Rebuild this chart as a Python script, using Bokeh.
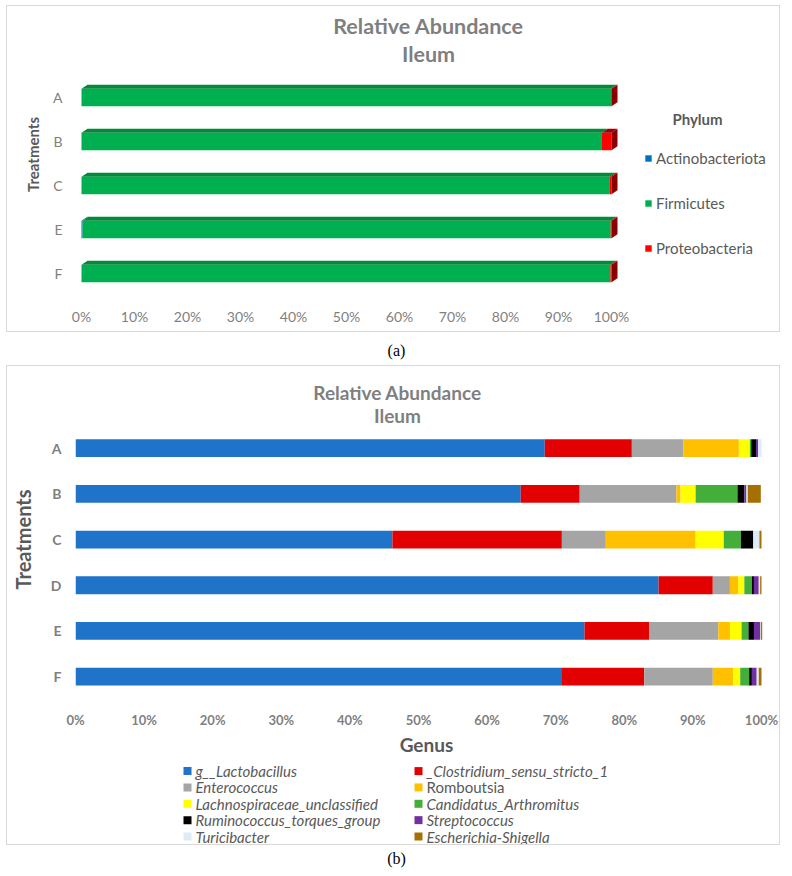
from bokeh.plotting import figure
from bokeh.models import ColumnDataSource, Legend, LegendItem, Label, FixedTicker, Range1d
from bokeh.embed import file_html
from bokeh.resources import INLINE
from bokeh.core.properties import value

FONT = "Lato"

# ---------------- data: panel (a) ----------------
title_lines = ["Relative Abundance", "Ileum"]
phylum_treatments = ["A", "B", "C", "E", "F"]
phylum_names = ["Actinobacteriota", "Firmicutes", "Proteobacteria"]
actinobacteriota = [0.0, 0.0, 0.0, 0.2, 0.0]
firmicutes = [99.9, 98.2, 99.7, 99.65, 99.8]
proteobacteria = [0.1, 1.8, 0.3, 0.15, 0.2]
phylum_colors = ["#0070c0", "#00b050", "#ff0000"]
phylum_shades = ["#00508a", "#008a3a", "#a00000"]
phylum_legend_title = "Phylum"

# ---------------- data: panel (b) ----------------
genus_treatments = ["A", "B", "C", "D", "E", "F"]
genus_names = ["g__Lactobacillus", "_Clostridium_sensu_stricto_1", "Enterococcus",
               "Romboutsia", "Lachnospiraceae_unclassified", "Candidatus_Arthromitus",
               "Ruminococcus_torques_group", "Streptococcus", "Turicibacter",
               "Escherichia-Shigella"]
genus_label_styles = ["italic", "italic", "italic", "normal", "italic",
                      "italic", "italic", "italic", "italic", "italic"]
lactobacillus = [68.4, 64.9, 46.2, 85.0, 74.2, 70.8]
clostridium = [12.7, 8.6, 24.7, 7.9, 9.4, 12.1]
enterococcus = [7.5, 14.1, 6.4, 2.5, 10.1, 10.0]
romboutsia = [8.1, 0.6, 13.1, 1.2, 1.7, 3.0]
lachnospiraceae = [1.6, 2.2, 4.1, 0.9, 1.7, 1.0]
candidatus = [0.2, 6.1, 2.5, 1.1, 1.0, 1.3]
ruminococcus = [0.7, 1.0, 1.8, 0.3, 0.8, 0.4]
streptococcus = [0.3, 0.3, 0.0, 0.7, 0.9, 0.7]
turicibacter = [0.5, 0.2, 0.9, 0.2, 0.1, 0.3]
escherichia = [0.0, 1.9, 0.3, 0.2, 0.2, 0.4]
genus_colors = ["#1f73c8", "#e20000", "#a5a5a5", "#ffc000", "#ffff00",
                "#43ae3a", "#000000", "#7030a0", "#ddebf7", "#a67000"]
genus_axis_title = "Genus"
treat_axis_title = "Treatments"

x_ticks = [0, 10, 20, 30, 40, 50, 60, 70, 80, 90, 100]
x_tick_labels = ["0%", "10%", "20%", "30%", "40%", "50%", "60%", "70%", "80%", "90%", "100%"]
captions = ["(a)", "(b)"]

TXT_GRAY = "#7f7f7f"
DARK_GRAY = "#595959"
BCOL = "1px solid #d9d9d9"

# ---------------- layout constants (page pixels) ----------------
OX, OY = 6, 5
W = 774
PAGE_R = OX + W


def base_fig(h, xr, yr, left, right, top, bottom, styles=None, mtop=0):
    p = figure(width=W, height=h, output_backend="svg", toolbar_location=None,
               x_range=xr, y_range=yr, min_border_left=left, min_border_right=right,
               min_border_top=top, min_border_bottom=bottom)
    p.margin = (mtop, 0, 0, OX)
    if styles:
        p.styles = styles
    p.outline_line_color = None
    p.grid.visible = False
    return p


def bare(p):
    p.xaxis.visible = False
    p.yaxis.visible = False


def style_axes(p):
    for ax in (p.xaxis, p.yaxis):
        ax.axis_line_color = None
        ax.major_tick_line_color = None
        ax.minor_tick_line_color = None
        ax.major_tick_out = 0
        ax.major_tick_in = 0
        ax.minor_tick_out = 0
        ax.major_label_text_font = FONT
        ax.major_label_text_color = TXT_GRAY
        ax.axis_label_text_font = FONT
        ax.axis_label_text_font_style = "bold"
        ax.axis_label_text_color = DARK_GRAY


# =============== panel (a) ===============
A_PAGE_TOP, HA = OY, 327
A_FL, A_FR = 70, 776               # frame left / right on page
A_TOP, A_BOT = 12, 294             # frame top / bottom on page
A_X0, A_PX = 80, 5.3               # page x of 0 %, px per %
A_PY = 44.0                        # px per treatment row
hA = 0.4
nA = len(phylum_treatments)
xrA = Range1d((A_FL - A_X0) / A_PX, (A_FR - A_X0) / A_PX)
yrA = Range1d(-0.5, -0.5 + (A_BOT - A_TOP) / A_PY)
pa = base_fig(HA, xrA, yrA, A_FL - OX, PAGE_R - A_FR, A_TOP - A_PAGE_TOP,
              A_PAGE_TOP + HA - A_BOT, {"border": BCOL}, mtop=OY)
dxA = 6 / A_PX
dyA = 4 / A_PY

ysA = [nA - 1 - i for i in range(nA)]
seriesA = [actinobacteriota, firmicutes, proteobacteria]
left = [0.0] * nA
rendA = []
top_xs, top_ys, top_col = [], [], []
for vals, col, shade in zip(seriesA, phylum_colors, phylum_shades):
    right = [l + v for l, v in zip(left, vals)]
    src = ColumnDataSource(dict(y=ysA, left=left, right=right))
    r = pa.hbar(y="y", left="left", right="right", height=hA, source=src,
                fill_color=col, line_color=None)
    rendA.append(r)
    for y, l, rr, v in zip(ysA, left, right, vals):
        if v > 0:
            yt = y + hA / 2
            top_xs.append([l, rr, rr + dxA, l + dxA])
            top_ys.append([yt, yt, yt + dyA, yt + dyA])
            top_col.append(shade)
    left = right

pa.patches(xs=top_xs, ys=top_ys, fill_color=top_col, line_color=None)
side_xs, side_ys = [], []
for y, Rt in zip(ysA, left):
    side_xs.append([Rt, Rt + dxA, Rt + dxA, Rt])
    side_ys.append([y - hA / 2, y - hA / 2 + dyA, y + hA / 2 + dyA, y + hA / 2])
pa.patches(xs=side_xs, ys=side_ys, fill_color="#8b0000", line_color=None)

style_axes(pa)
pa.xaxis.ticker = FixedTicker(ticks=x_ticks)
pa.xaxis.major_label_overrides = {t: s for t, s in zip(x_ticks, x_tick_labels)}
pa.yaxis.ticker = FixedTicker(ticks=ysA)
pa.yaxis.major_label_overrides = {y: s for y, s in zip(ysA, phylum_treatments)}
pa.xaxis.major_label_text_font_size = "14px"
pa.yaxis.major_label_text_font_size = "14px"
pa.xaxis.major_label_standoff = 12
pa.yaxis.major_label_standoff = 9
pa.yaxis.axis_label = treat_axis_title
pa.yaxis.axis_label_text_font_size = "15px"
pa.yaxis.axis_label_standoff = 8


def a_data(xp, yp):
    return ((xp - A_X0) / A_PX, -0.5 + (A_BOT - yp) / A_PY)


for txt, yp in zip(title_lines, [24, 52]):
    x, y = a_data(427, yp)
    pa.add_layout(Label(x=x, y=y, text=txt, text_align="center", text_baseline="middle",
                        text_font=FONT, text_font_style="bold", text_font_size="21.5px",
                        text_color=TXT_GRAY))
x, y = a_data(696, 117)
pa.add_layout(Label(x=x, y=y, text=phylum_legend_title, text_align="center",
                    text_baseline="middle", text_font=FONT, text_font_style="bold",
                    text_font_size="15px", text_color=DARK_GRAY))

leg_a = Legend(items=[LegendItem(label=n, renderers=[r]) for n, r in zip(phylum_names, rendA)],
               location=(643 - A_FL, A_BOT - 256), orientation="vertical",
               padding=0, margin=0, border_line_color=None, background_fill_alpha=0,
               glyph_width=8, glyph_height=8, label_standoff=4, spacing=27,
               label_height=18, label_text_font=FONT, label_text_font_size="15px",
               label_text_color=DARK_GRAY)
pa.add_layout(leg_a)


# =============== caption figures ===============
def caption_fig(top_page, h, y_text, txt):
    p = base_fig(h, Range1d(OX, PAGE_R), Range1d(top_page + h, top_page), 0, 0, 0, 0)
    bare(p)
    p.text(x=[396], y=[y_text], text=[txt], text_align="center", text_baseline="middle",
           text_font=value("Liberation Serif"), text_font_size="16px", text_color="#000000")
    return p


CA_TOP, HCA = A_PAGE_TOP + HA, 33
cap_a = caption_fig(CA_TOP, HCA, 350, captions[0])

# =============== panel (b) ===============
B_PAGE_TOP = CA_TOP + HCA        # 365
HB = 396                         # bars + axes part, down to page y 761
B_FL, B_FR = 74, 776
B_TOP, B_BOT = 378, 698
B_X0, B_PX = 74, 6.86
B_PY = 45.7
hB = 0.39
nB = len(genus_treatments)
xrB = Range1d((B_FL - B_X0) / B_PX, (B_FR - B_X0) / B_PX)
yrB = Range1d(-0.5, -0.5 + (B_BOT - B_TOP) / B_PY)
pb = base_fig(HB, xrB, yrB, B_FL - OX, PAGE_R - B_FR, B_TOP - B_PAGE_TOP,
              B_PAGE_TOP + HB - B_BOT, {"border": BCOL, "border-bottom": "none"})

ysB = [nB - 1 - i for i in range(nB)]
seriesB = [lactobacillus, clostridium, enterococcus, romboutsia, lachnospiraceae,
           candidatus, ruminococcus, streptococcus, turicibacter, escherichia]
left = [0.0] * nB
for vals, col in zip(seriesB, genus_colors):
    right = [l + v for l, v in zip(left, vals)]
    src = ColumnDataSource(dict(y=ysB, left=left, right=right))
    pb.hbar(y="y", left="left", right="right", height=hB, source=src,
            fill_color=col, line_color=None)
    left = right

style_axes(pb)
pb.xaxis.ticker = FixedTicker(ticks=x_ticks)
pb.xaxis.major_label_overrides = {t: s for t, s in zip(x_ticks, x_tick_labels)}
pb.yaxis.ticker = FixedTicker(ticks=ysB)
pb.yaxis.major_label_overrides = {y: s for y, s in zip(ysB, genus_treatments)}
pb.xaxis.major_label_text_font_style = "bold"
pb.yaxis.major_label_text_font_style = "bold"
pb.xaxis.major_label_text_font_size = "13px"
pb.yaxis.major_label_text_font_size = "14px"
pb.xaxis.major_label_standoff = 12
pb.yaxis.major_label_standoff = 14
pb.xaxis.axis_label = genus_axis_title
pb.xaxis.axis_label_text_font_size = "19px"
pb.xaxis.axis_label_standoff = 2
pb.yaxis.axis_label = treat_axis_title
pb.yaxis.axis_label_text_font_size = "20px"
pb.yaxis.axis_label_standoff = 13


def b_data(xp, yp):
    return ((xp - B_X0) / B_PX, -0.5 + (B_BOT - yp) / B_PY)


for txt, yp in zip(title_lines, [391, 414]):
    x, y = b_data(396, yp)
    pb.add_layout(Label(x=x, y=y, text=txt, text_align="center", text_baseline="middle",
                        text_font=FONT, text_font_style="bold", text_font_size="19px",
                        text_color=TXT_GRAY))

# ----- legend part of panel (b): key drawn in page-pixel coordinates -----
BL_TOP = B_PAGE_TOP + HB          # 761
HBL = 845 - BL_TOP
pbl = base_fig(HBL, Range1d(OX, PAGE_R), Range1d(BL_TOP + HBL, BL_TOP), 0, 0, 0, 0,
               {"border": BCOL, "border-top": "none"})
bare(pbl)
KEY_X = [186, 417]        # centre of the colour squares, per legend column
KEY_Y0, KEY_DY = 770.6, 16.35
key_x = [KEY_X[i % 2] for i in range(len(genus_names))]
key_y = [KEY_Y0 + KEY_DY * (i // 2) for i in range(len(genus_names))]
key_src = ColumnDataSource(dict(x=key_x, y=key_y, tx=[x + 8 for x in key_x],
                                name=genus_names, color=genus_colors,
                                style=genus_label_styles))
pbl.rect(x="x", y="y", width=8, height=8, source=key_src, fill_color="color",
         line_color=None)
pbl.text(x="tx", y="y", text="name", source=key_src, text_align="left",
         text_baseline="middle", text_font=value(FONT), text_font_size="15px",
         text_font_style="style", text_color=DARK_GRAY)

CB_TOP, HCB = 845, 25
cap_b = caption_fig(CB_TOP, HCB, 858, captions[1])

open("out.html", "w").write(file_html([pa, cap_a, pb, pbl, cap_b], INLINE))
